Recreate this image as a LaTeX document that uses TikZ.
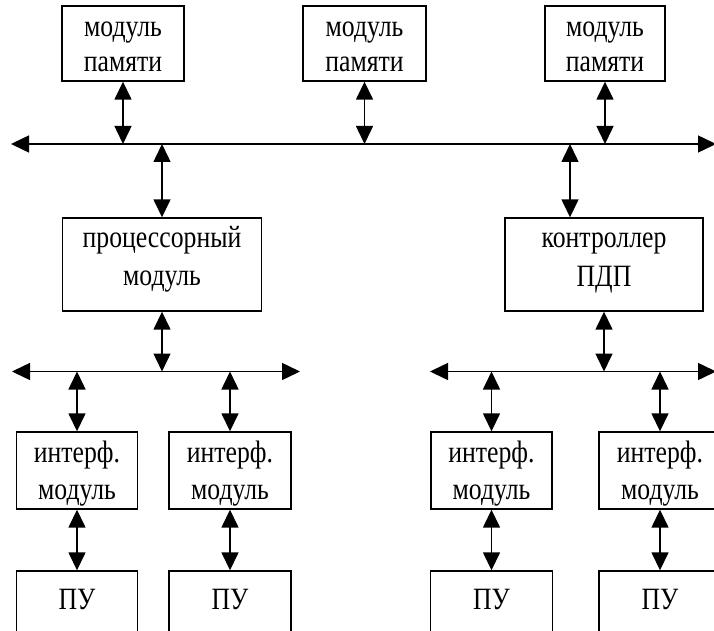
\documentclass[tikz,border=0pt]{standalone}
\usepackage{fontspec}
\setmainfont[FakeStretch=0.83]{Liberation Serif}
\usetikzlibrary{arrows.meta}
\tikzset{
  box/.style={draw, line width=1.4pt, rectangle, inner sep=0pt},
  txt/.style={anchor=base, inner sep=0pt, font=\fontsize{31}{36}\selectfont},
  dbl/.style={line width=1.5pt, {Triangle[length=18pt,width=17pt]}-{Triangle[length=18pt,width=17pt]}},
}
\begin{document}
\begin{tikzpicture}[x=1pt,y=-1pt]
\useasboundingbox (0,0) rectangle (714,631);
\clip (0,0) rectangle (714,631);
% memory modules
\node[box, minimum width=122pt, minimum height=75pt] (m1) at (123,43.5) {};
\node[box, minimum width=123pt, minimum height=75pt] (m2) at (364.5,43.5) {};
\node[box, minimum width=120pt, minimum height=75pt] (m3) at (605,43.5) {};
\node[txt] (m1a) at (123,37) {модуль};
\node[txt] (m1b) at (123,72) {памяти};
\node[txt] (m2a) at (364.5,37) {модуль};
\node[txt] (m2b) at (364.5,72) {памяти};
\node[txt] (m3a) at (605,37) {модуль};
\node[txt] (m3b) at (605,72) {памяти};
% system bus
\coordinate (b1L) at (11,144);
\coordinate (b1R) at (716,144);
\draw[dbl] (b1L) -- (b1R);
\draw[dbl] (m1.south) -- (m1.south |- b1L);
\draw[dbl] (m2.south) -- (m2.south |- b1L);
\draw[dbl] (m3.south) -- (m3.south |- b1L);
% processor and DMA controller
\node[box, minimum width=199pt, minimum height=93pt] (p) at (162,264.5) {};
\node[txt] (pa) at (162,247) {процессорный};
\node[txt] (pb) at (162,285) {модуль};
\node[box, minimum width=198pt, minimum height=93pt] (c) at (604,264.5) {};
\node[txt] (ca) at (604,247) {контроллер};
\node[txt] (cb) at (604,286) {ПДП};
\coordinate (ctap) at (570,144);
\draw[dbl] (p.north |- b1L) -- (p.north);
\draw[dbl] (ctap) -- (ctap |- c.north);
% local buses
\coordinate (b2L) at (12,371.5);
\coordinate (b2R) at (300,371.5);
\coordinate (b3L) at (430,371.5);
\coordinate (b3R) at (716,371.5);
\draw[dbl] (b2L) -- (b2R);
\draw[dbl] (b3L) -- (b3R);
\draw[dbl] (p.south) -- (p.south |- b2L);
\draw[dbl] (c.south) -- (c.south |- b3L);
% interface modules
\node[box, minimum width=121pt, minimum height=77pt] (i1) at (77,470.5) {};
\node[box, minimum width=122pt, minimum height=77pt] (i2) at (230,470.5) {};
\node[box, minimum width=121pt, minimum height=77pt] (i3) at (491.5,470.5) {};
\node[box, minimum width=122pt, minimum height=77pt] (i4) at (660,470.5) {};
\foreach \n in {i1,i2,i3,i4}{
  \node[txt] (\n a) at ([yshift=8.5pt]\n.center) {интерф.};
  \node[txt] (\n b) at ([yshift=-28.5pt]\n.center) {модуль};
  \draw[dbl] (\n.north |- b2L) -- (\n.north);
}
% peripheral devices
\node[box, minimum width=121pt, minimum height=89pt] (u1) at (77,615.5) {};
\node[box, minimum width=122pt, minimum height=89pt] (u2) at (230,615.5) {};
\node[box, minimum width=122pt, minimum height=89pt] (u3) at (491.5,615.5) {};
\node[box, minimum width=122pt, minimum height=89pt] (u4) at (660,615.5) {};
\node[txt] (u1t) at (77,609) {ПУ};
\node[txt] (u2t) at (230,609) {ПУ};
\node[txt] (u3t) at (491.5,609) {ПУ};
\node[txt] (u4t) at (660,609) {ПУ};
\draw[dbl] (i1.south) -- (u1.north);
\draw[dbl] (i2.south) -- (u2.north);
\draw[dbl] (i3.south) -- (u3.north);
\draw[dbl] (i4.south) -- (u4.north);
\end{tikzpicture}
\end{document}
